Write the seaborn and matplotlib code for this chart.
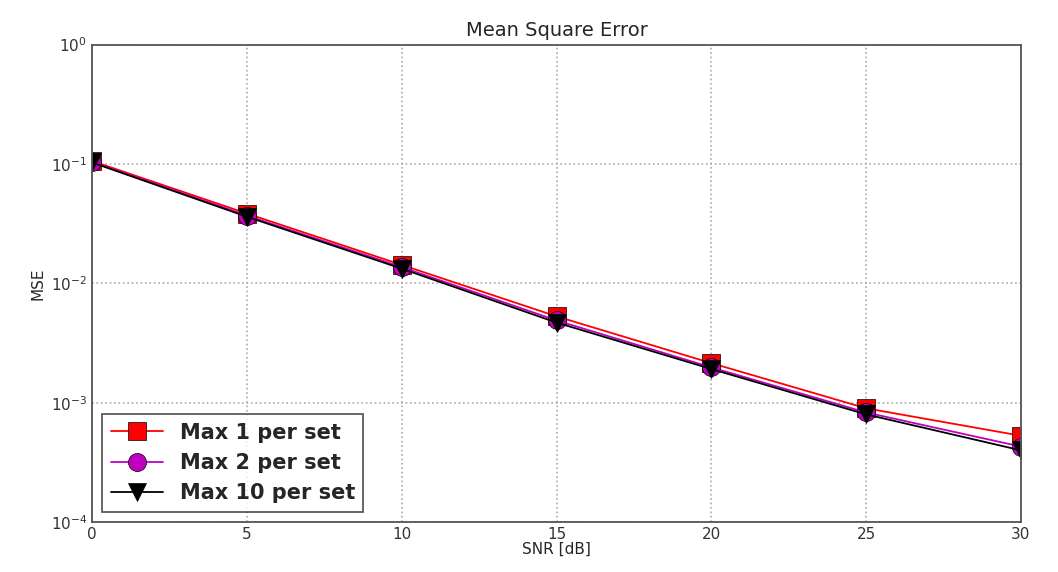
import numpy as np
import pandas as pd
import matplotlib
matplotlib.use("Agg")
import matplotlib.pyplot as plt
import seaborn as sns

# data
snr_db = [0, 5, 10, 15, 20, 25, 30]
mse_max1 = [0.106, 0.0385, 0.0143, 0.0053, 0.00215, 0.00090, 0.00053]
mse_max2 = [0.104, 0.0370, 0.0137, 0.0049, 0.00198, 0.00083, 0.00043]
mse_max10 = [0.103, 0.0362, 0.0133, 0.0047, 0.00192, 0.00080, 0.00040]
labels = ["Max 1 per set", "Max 2 per set", "Max 10 per set"]

df = pd.DataFrame({
    "snr": snr_db * 3,
    "mse": mse_max1 + mse_max2 + mse_max10,
    "series": [labels[0]] * 7 + [labels[1]] * 7 + [labels[2]] * 7,
})

sns.set_style("white")
plt.rcParams['font.family'] = ['DejaVu Sans']

fig, ax = plt.subplots(figsize=(10.58, 5.72), dpi=100)
sns.lineplot(data=df, x="snr", y="mse", hue="series", style="series",
             palette=["red", "#c000c0", "black"],
             markers=["s", "o", "v"], dashes=False, markersize=13,
             markeredgewidth=0.5, markeredgecolor="black",
             linewidth=1.3, ax=ax, legend=True)

ax.set_yscale("log")
ax.set_xlim(0, 30)
ax.set_ylim(1e-4, 1e0)
ax.set_xticks(snr_db)
ax.grid(True, which="major", linestyle=":", color="#aaaaaa", linewidth=1.2)
ax.tick_params(axis="both", labelsize=11, direction="in", which="both",
               colors="#333333")
ax.tick_params(which="major", length=6)
ax.tick_params(which="minor", length=3)
for s in ax.spines.values():
    s.set_color("#555555")
    s.set_linewidth(1.3)

ax.set_title("Mean Square Error", fontsize=14)
ax.set_xlabel("SNR [dB]", fontsize=11, labelpad=0)
ax.set_ylabel("MSE", fontsize=11)

leg = ax.legend(loc="lower left", fontsize=15, frameon=True, fancybox=False,
                borderaxespad=0.5, handlelength=2.5, markerscale=1.0)
leg.get_frame().set_edgecolor("#333333")
leg.get_frame().set_linewidth(1.3)
for t in leg.get_texts():
    t.set_fontweight("bold")

plt.subplots_adjust(left=0.087, right=0.965, top=0.922, bottom=0.087)
plt.savefig("out.png", dpi=100)
